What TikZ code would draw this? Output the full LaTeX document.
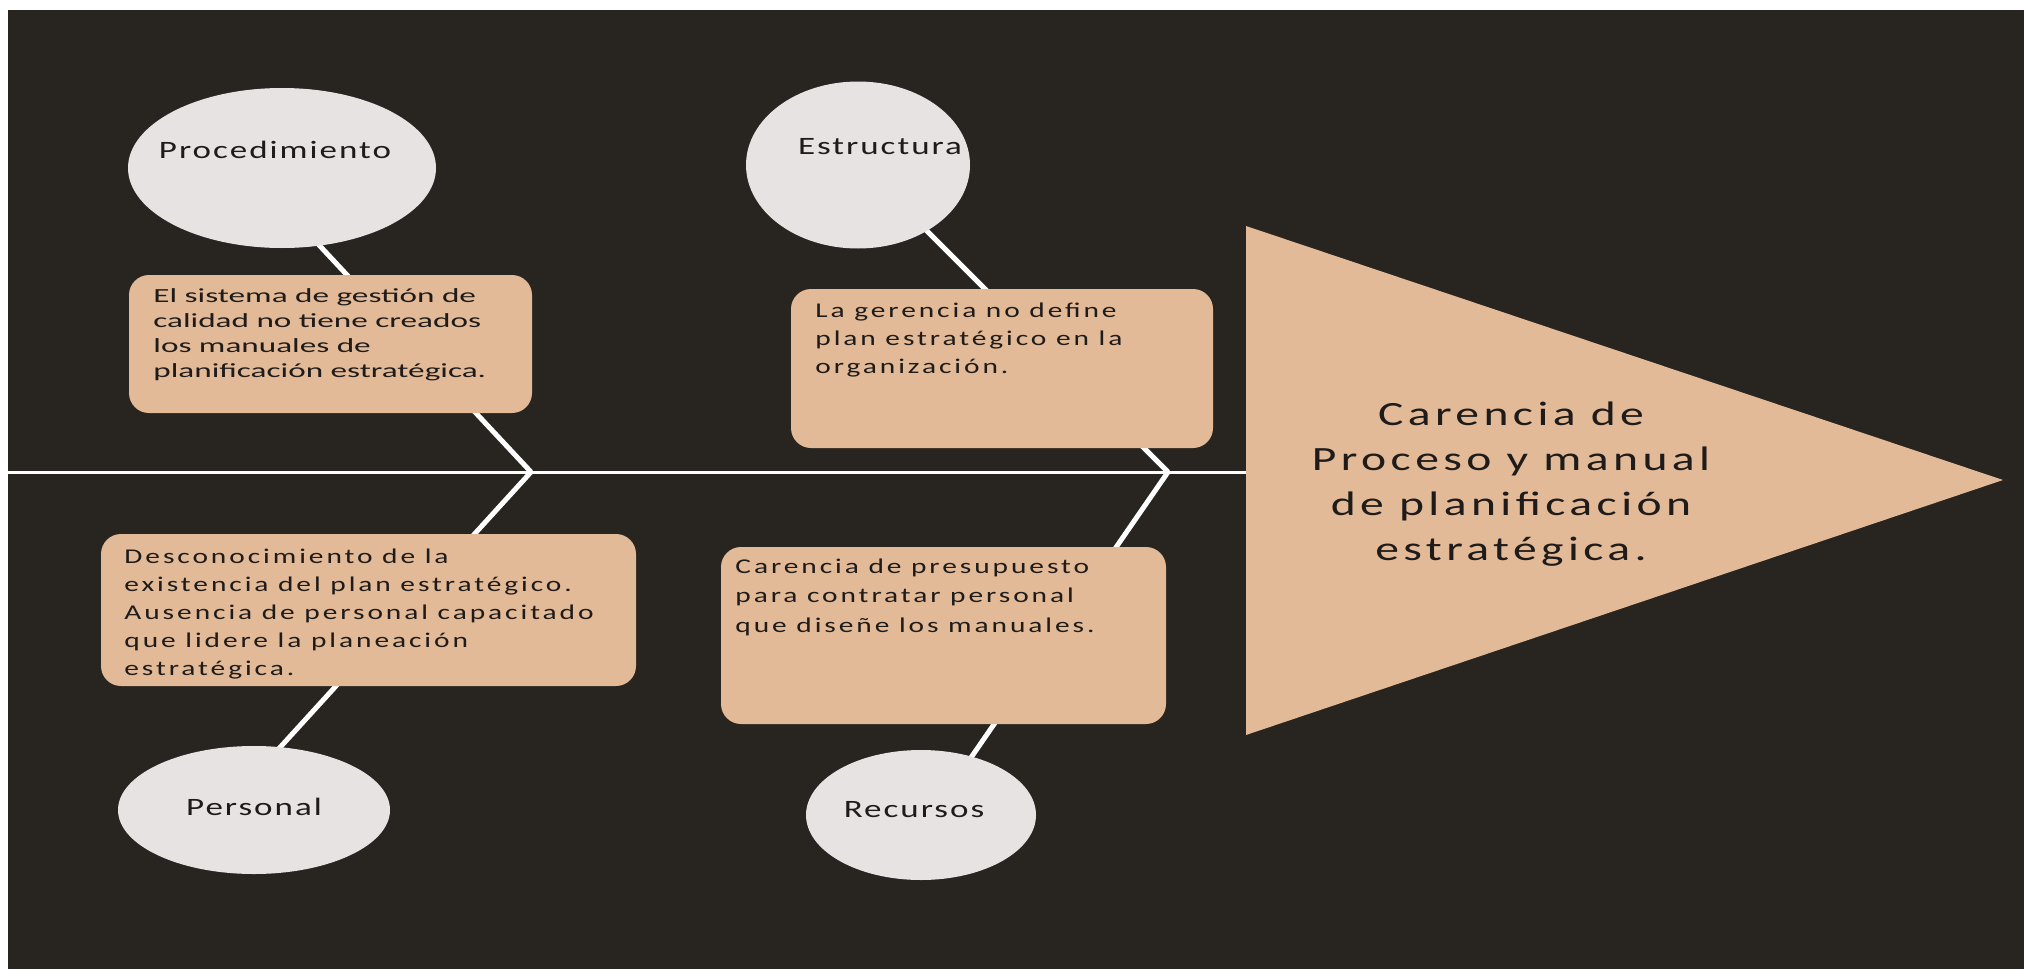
\documentclass[tikz,border=0pt]{standalone}
\usepackage{fontspec}
\setmainfont{Carlito}
\newfontfamily\fboxA[FakeStretch=1.66]{Carlito}
\newfontfamily\fboxB[FakeStretch=1.4,LetterSpace=14]{Carlito}
\newfontfamily\fell[FakeStretch=1.4,LetterSpace=8]{Carlito}
\newfontfamily\ftri[FakeStretch=1.4,LetterSpace=13]{Carlito}
\usetikzlibrary{shapes.geometric}
\definecolor{bgdark}{HTML}{282420}
\definecolor{tanfill}{HTML}{E2BA97}
\definecolor{ellg}{HTML}{E7E3E2}
\definecolor{txt}{HTML}{1E1B1A}
\pgfdeclarelayer{bg}
\pgfdeclarelayer{lines}
\pgfsetlayers{bg,lines,main}
\begin{document}
\begin{tikzpicture}[x=0.5pt,y=-0.5pt,
  catell/.style={ellipse, fill=ellg, draw=none, inner sep=0pt},
  causebox/.style={rectangle, rounded corners=10pt, fill=tanfill, draw=none, inner sep=0pt},
  bone/.style={draw=white, line width=2.5pt},
  spineline/.style={draw=white, line width=1.5pt},
  lbl/.style={inner sep=0pt, text=txt},
]
\useasboundingbox (0,0) rectangle (2024,969);
\begin{pgfonlayer}{bg}
  \fill[white] (0,0) rectangle (2024,969);
  \fill[bgdark] (8,10) rectangle (2024,969);
\end{pgfonlayer}

% category ellipses
\node[catell, minimum width=154pt, minimum height=80pt] (proc) at (282,168) {};
\node[catell, minimum width=112pt, minimum height=83.5pt] (estr) at (858,165) {};
\node[catell, minimum width=136pt, minimum height=64pt] (pers) at (254,810) {};
\node[catell, minimum width=115pt, minimum height=65pt] (recu) at (921,815) {};

\node[lbl, anchor=base] (proct) at (275,158) {\fell\fontsize{12.5pt}{15pt}\selectfont Procedimiento};
\node[lbl, anchor=base] (estrt) at (880,154) {\fell\fontsize{12.5pt}{15pt}\selectfont Estructura};
\node[lbl, anchor=base] (perst) at (254,815) {\fell\fontsize{12.5pt}{15pt}\selectfont Personal};
\node[lbl, anchor=base] (recut) at (914,817) {\fell\fontsize{12.5pt}{15pt}\selectfont Recursos};

% cause boxes
\node[causebox, minimum width=201.5pt, minimum height=69pt] (b1) at (330.5,344) {};
\node[causebox, minimum width=211pt, minimum height=79.5pt] (b2) at (1002,368.5) {};
\node[causebox, minimum width=267.5pt, minimum height=76pt] (b3) at (368.5,610) {};
\node[causebox, minimum width=222.5pt, minimum height=88.5pt] (b4) at (943.5,635.5) {};

\node[lbl, anchor=base west] (b1t) at (153,302) {\parbox[t]{200pt}{\raggedright\fboxA\fontsize{10pt}{12.5pt}\selectfont
El sistema de gestión de\\ calidad no tiene creados\\ los manuales de\\ planificación estratégica.}};
\node[lbl, anchor=base west] (b2t) at (815,317) {\parbox[t]{205pt}{\raggedright\fboxB\fontsize{10.5pt}{14pt}\selectfont
La gerencia no define\\ plan estratégico en la\\ organización.}};
\node[lbl, anchor=base west] (b3t) at (124,563) {\parbox[t]{265pt}{\raggedright\fboxB\fontsize{10.5pt}{14pt}\selectfont
Desconocimiento de la\\ existencia del plan estratégico.\\ Ausencia de personal capacitado\\ que lidere la planeación\\ estratégica.}};
\node[lbl, anchor=base west] (b4t) at (735,573) {\parbox[t]{215pt}{\raggedright\fboxB\fontsize{10.5pt}{14.75pt}\selectfont
Carencia de presupuesto\\ para contratar personal\\ que diseñe los manuales.}};

% effect head
\coordinate (htop) at (1246,226);
\coordinate (htip) at (2003,480);
\coordinate (hbot) at (1246,735);
\coordinate (head) at (1246,472);
\fill[tanfill] (htop) -- (htip) -- (hbot) -- cycle;
\node[lbl, anchor=base] (efft) at (1511,425) {\parbox[t]{300pt}{\centering\ftri\fontsize{17pt}{22.5pt}\selectfont
Carencia de\\ Proceso y manual\\ de planificación\\ estratégica.}};

% spine and bones
\coordinate (tail) at (8,472);
\coordinate (j1) at (531,472);
\coordinate (j2) at (1168,472);
\coordinate (e1) at (305,230);
\coordinate (e2) at (915,219);
\coordinate (e3) at (264,765);
\coordinate (e4) at (959,775);
\begin{pgfonlayer}{lines}
  \draw[spineline] (tail) -- (head);
  \draw[bone] (j1) -- (e1);
  \draw[bone] (j1) -- (e3);
  \draw[bone] (j2) -- (e2);
  \draw[bone] (j2) -- (e4);
\end{pgfonlayer}
\end{tikzpicture}
\end{document}
